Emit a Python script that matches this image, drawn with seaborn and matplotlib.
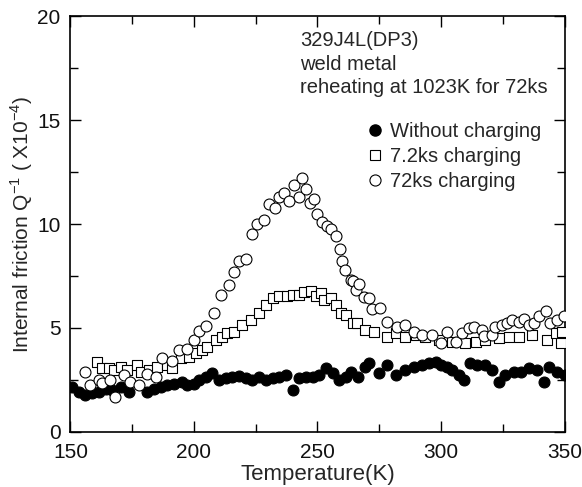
import numpy as np
import pandas as pd
import matplotlib
matplotlib.use("Agg")
import matplotlib.pyplot as plt
from matplotlib.lines import Line2D
import seaborn as sns

# Datos (temperatura en K, Q^-1 en unidades de 1e-4)
temp_none = [150.7, 153.4, 156.1, 158.8, 161.5, 164.2, 166.9, 170.3, 173.6, 181.1,
             183.8, 186.5, 189.2, 191.9, 195.3, 197.3, 200.0, 202.0, 204.7, 207.4,
             210.1, 212.8, 215.5, 218.2, 221.0, 223.6, 226.4, 229.0, 231.8, 234.5,
             237.2, 239.9, 242.6, 245.3, 248.0, 250.7, 253.4, 256.1, 258.8, 261.5,
             263.5, 266.2, 269.4, 270.8, 274.8, 278.2, 281.6, 285.6, 289.0, 292.3,
             295.0, 297.8, 299.8, 302.5, 304.5, 307.2, 309.2, 311.9, 314.6, 318.0,
             320.7, 323.4, 326.1, 329.5, 332.2, 335.5, 338.9, 341.6, 343.6, 347.0,
             350.0]
q_none = [2.17, 1.93, 1.77, 1.85, 1.93, 2.09, 2.01, 2.17, 1.93, 1.93,
          2.09, 2.14, 2.25, 2.33, 2.41, 2.25, 2.33, 2.50, 2.66, 2.85,
          2.50, 2.58, 2.66, 2.69, 2.58, 2.50, 2.66, 2.50, 2.58, 2.66,
          2.74, 2.01, 2.58, 2.66, 2.62, 2.74, 3.06, 2.82, 2.50, 2.66,
          2.90, 2.66, 3.14, 3.30, 2.82, 3.22, 2.74, 2.98, 3.14, 3.22,
          3.30, 3.38, 3.22, 3.14, 2.98, 2.74, 2.50, 3.30, 3.22, 3.22,
          2.98, 2.42, 2.74, 2.90, 2.90, 3.06, 2.98, 2.42, 3.14, 2.90,
          2.74]

temp_72 = [160.8, 162.8, 165.5, 167.6, 170.3, 173.0, 177.0, 178.4, 181.8, 185.1,
           189.2, 191.2, 194.6, 198.0, 200.7, 203.4, 205.4, 208.8, 211.5, 213.5,
           216.2, 219.6, 223.0, 226.4, 229.0, 231.8, 234.5, 237.8, 239.9, 242.6,
           244.6, 247.3, 249.3, 251.4, 252.7, 255.4, 257.4, 259.5, 261.5, 264.2,
           266.0, 269.4, 272.8, 278.2, 281.6, 285.6, 289.7, 293.7, 299.1, 304.5,
           309.9, 314.0, 318.0, 323.4, 327.5, 331.5, 336.9, 343.0, 346.4, 348.4,
           348.8]
q_72 = [3.38, 3.06, 3.06, 2.98, 3.14, 2.98, 3.22, 2.90, 2.98, 3.14,
        3.22, 3.06, 3.54, 3.62, 3.78, 3.95, 4.10, 4.43, 4.59, 4.75,
        4.83, 5.15, 5.40, 5.72, 6.12, 6.44, 6.52, 6.52, 6.60, 6.60,
        6.72, 6.76, 6.52, 6.68, 6.36, 6.44, 6.12, 5.72, 5.64, 5.24,
        5.24, 4.91, 4.83, 4.59, 4.75, 4.59, 4.67, 4.59, 4.43, 4.35,
        4.30, 4.35, 4.43, 4.51, 4.59, 4.59, 4.67, 4.43, 4.75, 4.27,
        4.83]

temp_720 = [155.8, 158.1, 161.5, 162.8, 166.2, 168.0, 171.6, 174.3, 177.7, 181.0,
            184.5, 187.2, 191.2, 193.9, 197.3, 200.0, 202.0, 204.7, 208.1, 210.8,
            214.2, 216.2, 218.2, 221.0, 223.4, 225.7, 228.4, 230.4, 232.8, 234.5,
            236.5, 238.5, 240.5, 242.6, 243.9, 245.5, 246.9, 248.6, 250.0, 252.0,
            254.0, 255.4, 257.4, 259.3, 260.0, 261.3, 263.4, 264.2, 265.5, 266.7,
            268.7, 270.8, 272.1, 275.5, 278.2, 282.2, 285.6, 289.0, 292.3, 296.4,
            299.8, 302.5, 305.9, 308.5, 311.3, 313.3, 316.6, 317.3, 320.7, 322.0,
            324.7, 326.7, 328.8, 331.5, 333.5, 335.5, 337.6, 339.6, 342.3, 344.3,
            347.0, 349.7]
q_720 = [2.90, 2.25, 2.50, 2.35, 2.50, 1.70, 2.75, 2.40, 2.25, 2.80,
         2.65, 3.55, 3.40, 3.95, 4.00, 4.40, 4.85, 5.10, 5.70, 6.60,
         7.05, 7.70, 8.20, 8.30, 9.50, 10.00, 10.20, 10.95, 10.75, 11.30,
         11.50, 11.10, 11.90, 11.30, 12.20, 11.70, 11.00, 11.20, 10.50, 10.10,
         9.90, 9.75, 9.42, 8.78, 8.20, 7.80, 7.30, 7.25, 6.85, 7.10,
         6.50, 6.45, 5.90, 5.95, 5.30, 5.07, 5.15, 4.83, 4.67, 4.67,
         4.30, 4.83, 4.35, 4.75, 5.00, 5.07, 4.90, 4.60, 4.67, 5.07,
         5.15, 5.24, 5.40, 5.30, 5.42, 5.15, 5.24, 5.56, 5.80, 5.24,
         5.40, 5.60]

labels = ["Without charging", "7.2ks charging", "72ks charging"]

df = pd.concat([
    pd.DataFrame({"T": temp_none, "Q": q_none, "serie": labels[0]}),
    pd.DataFrame({"T": temp_72, "Q": q_72, "serie": labels[1]}),
    pd.DataFrame({"T": temp_720, "Q": q_720, "serie": labels[2]}),
], ignore_index=True)

sns.set_style("ticks")
plt.rcParams["font.family"] = ["Liberation Sans", "DejaVu Sans"]
plt.rcParams["mathtext.fontset"] = "custom"
plt.rcParams["mathtext.rm"] = "Liberation Sans"

fig = plt.figure(figsize=(5.82, 4.87), dpi=100)
ax = fig.add_axes([0.121, 0.113, 0.849, 0.854])

estilos = {
    labels[0]: dict(marker="o", facecolor="black", s=62),
    labels[1]: dict(marker="s", facecolor="white", s=48),
    labels[2]: dict(marker="o", facecolor="white", s=62),
}
for nombre in labels:
    sub = df[df["serie"] == nombre]
    st = estilos[nombre]
    sns.scatterplot(data=sub, x="T", y="Q", ax=ax, marker=st["marker"],
                    color=st["facecolor"], edgecolor="black", linewidth=0.8,
                    s=st["s"], legend=False, zorder=3)

ax.set_xlim(150, 350)
ax.set_ylim(0, 20)
ax.set_xticks([150, 200, 250, 300, 350])
ax.set_xticks([175, 225, 275, 325], minor=True)
ax.set_yticks([0, 5, 10, 15, 20])
ax.set_yticks([2.5, 7.5, 12.5, 17.5], minor=True)
ax.tick_params(which="both", direction="in", top=True, right=True,
               labelsize=15, width=1.0, color="black", labelcolor="#111111")
ax.tick_params(which="major", length=8)
ax.tick_params(which="minor", length=6)
ax.tick_params(axis="x", which="major", pad=8)
ax.tick_params(axis="y", which="major", pad=7)
for sp in ax.spines.values():
    sp.set_linewidth(1.2)
    sp.set_color("black")

ax.set_xlabel("Temperature(K)", fontsize=16, labelpad=1.5)
ax.set_ylabel(r"Internal friction Q$^{\mathrm{-1}}$ ( X10$^{\mathrm{-4}}$)",
              fontsize=15, labelpad=2)

ax.text(0.465, 0.963, "329J4L(DP3)\nweld metal\nreheating at 1023K for 72ks",
        transform=ax.transAxes, fontsize=14.5, va="top", ha="left",
        linespacing=1.3)

handles = [
    Line2D([], [], ls="none", marker="o", markersize=8, mfc="black", mec="black"),
    Line2D([], [], ls="none", marker="s", markersize=7, mfc="white", mec="black", mew=0.8),
    Line2D([], [], ls="none", marker="o", markersize=8, mfc="white", mec="black", mew=0.8),
]
ax.legend(handles, labels, loc="upper left", bbox_to_anchor=(0.605, 0.745),
          frameon=False, fontsize=14.5, handlelength=0.6, handletextpad=0.4,
          labelspacing=0.3, borderpad=0, borderaxespad=0)

fig.savefig("out.png", dpi=100)
